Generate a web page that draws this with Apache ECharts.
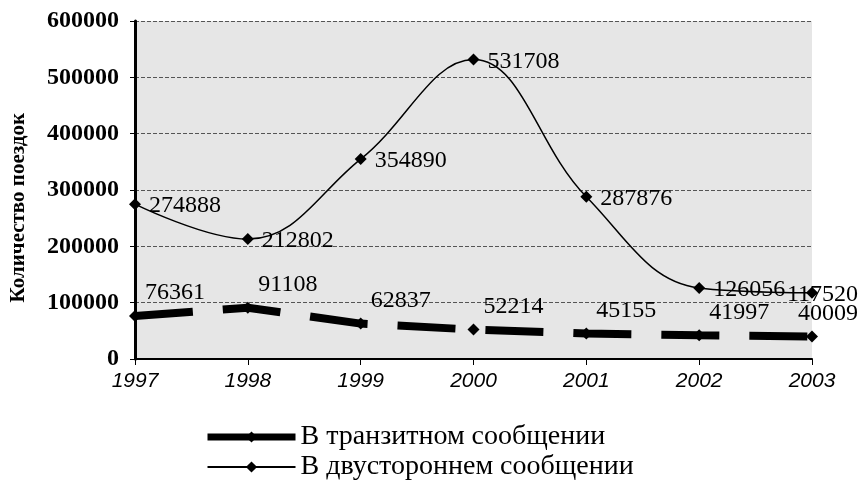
<!DOCTYPE html>
<html>
<head>
<meta charset="utf-8">
<script src="https://cdn.jsdelivr.net/npm/echarts@6/dist/echarts.min.js"></script>
<style>
  html, body { margin: 0; padding: 0; background: #fff; }
  #myChart { width: 860px; height: 495px; }
</style>
</head>
<body>
<div id="myChart"></div>
<script>
  // годы и данные
  var years = ['1997', '1998', '1999', '2000', '2001', '2002', '2003'];
  var transitData = [76361, 91108, 62837, 52214, 45155, 41997, 40009];
  var bilateralData = [274888, 212802, 354890, 531708, 287876, 126056, 117520];
  var legendNames = ['В транзитном сообщении', 'В двустороннем сообщении'];
  var yTicks = [0, 100000, 200000, 300000, 400000, 500000, 600000];
  var yTitle = 'Количество поездок';

  var myChart = echarts.init(document.getElementById('myChart'));

  // сдвиг подписи и запрет вылезать за правый край
  function shiftLabel(dx, dy) {
    return function (params) {
      var r = params.labelRect;
      var res = { dx: dx, dy: dy };
      if (r.x + dx + r.width > 858) {
        res.dx = 858 - r.width - r.x;
      }
      return res;
    };
  }

  var option = {
    backgroundColor: '#fff',
    animation: false,
    grid: {
      left: 135,
      right: 48,
      top: 21,
      bottom: 136,
      show: true,
      backgroundColor: '#e6e6e6',
      borderWidth: 0
    },
    graphic: [{
      type: 'text',
      left: 8,
      top: 113,
      rotation: Math.PI / 2,
      style: {
        text: yTitle,
        fill: '#000',
        font: 'bold 21px "Liberation Serif"'
      }
    }],
    legend: {
      orient: 'vertical',
      left: 199,
      top: 417,
      itemWidth: 88,
      itemHeight: 14,
      itemGap: 0,
      textStyle: { fontFamily: 'Liberation Serif', fontSize: 28, color: '#000', lineHeight: 30 },
      data: [
        { name: legendNames[0], lineStyle: { type: 'solid', width: 7 } },
        { name: legendNames[1] }
      ]
    },
    xAxis: {
      type: 'category',
      boundaryGap: false,
      data: years,
      axisLine: { lineStyle: { color: '#000', width: 2 } },
      axisTick: { show: true, length: 6, lineStyle: { color: '#000' } },
      axisLabel: {
        margin: 12,
        color: '#000',
        fontFamily: 'Liberation Sans',
        fontStyle: 'italic',
        fontSize: 21
      },
      splitLine: { show: false }
    },
    yAxis: {
      type: 'value',
      min: yTicks[0],
      max: yTicks[yTicks.length - 1],
      interval: 100000,
      axisLine: { show: true, lineStyle: { color: '#000', width: 3 } },
      axisTick: { show: true, length: 5, lineStyle: { color: '#000' } },
      axisLabel: {
        margin: 16,
        color: '#000',
        fontFamily: 'Liberation Serif',
        fontWeight: 'bold',
        fontSize: 24,
        formatter: function (v) { return String(v); }
      },
      splitLine: { show: true, lineStyle: { color: '#555', type: 'dashed', width: 1 } }
    },
    series: [
      {
        name: legendNames[0],
        type: 'line',
        data: transitData,
        symbol: 'diamond',
        symbolSize: 12,
        itemStyle: { color: '#000' },
        lineStyle: { color: '#000', width: 8, type: [58, 30] },
        label: {
          show: true,
          position: 'top',
          color: '#000',
          fontFamily: 'Liberation Serif',
          fontSize: 24
        },
        labelLayout: shiftLabel(40, 0),
        z: 3
      },
      {
        name: legendNames[1],
        type: 'line',
        smooth: 0.4,
        data: bilateralData,
        symbol: 'diamond',
        symbolSize: 12,
        itemStyle: { color: '#000' },
        lineStyle: { color: '#000', width: 1.5 },
        label: {
          show: true,
          position: 'right',
          distance: 8,
          color: '#000',
          fontFamily: 'Liberation Serif',
          fontSize: 24
        },
        labelLayout: shiftLabel(0, 2),
        z: 4
      }
    ]
  };
  myChart.setOption(option);
</script>
</body>
</html>
